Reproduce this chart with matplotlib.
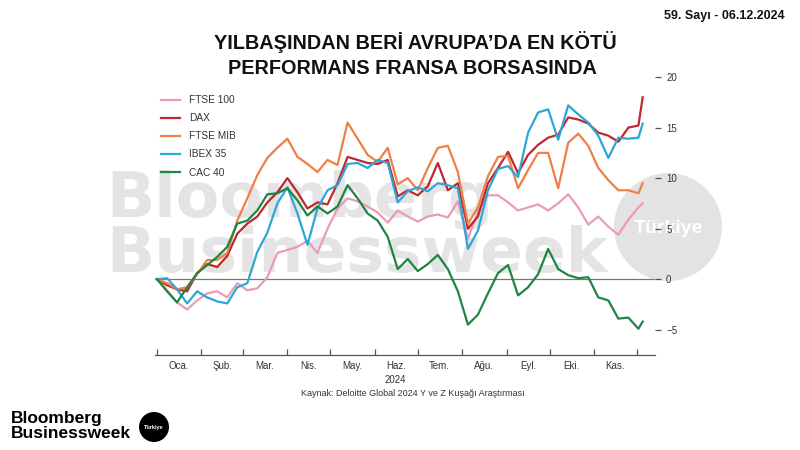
import numpy as np
import pandas as pd
import matplotlib
matplotlib.use('Agg')
import matplotlib.pyplot as plt
import matplotlib.dates as mdates
from matplotlib.patches import Ellipse

plt.rcParams['font.family'] = ['Liberation Sans', 'DejaVu Sans']

# haftalik noktalar (1 Ocak - 5 Aralik 2024), yilbasindan beri % degisim
tarih = list(pd.date_range('2024-01-01', periods=49, freq='7D')) + [pd.Timestamp('2024-12-05')]

ftse100 = [0, -1.1, -2.3, -3.0, -2.1, -1.4, -1.2, -1.8, -0.4, -1.1,
           -0.9, 0.2, 2.6, 2.9, 3.2, 3.8, 2.6, 5.0, 7.0, 8.0,
           7.7, 7.2, 6.6, 5.6, 6.8, 6.2, 5.7, 6.2, 6.4, 6.1,
           7.7, 4.0, 6.7, 8.3, 8.3, 7.6, 6.8, 7.1, 7.4, 6.8,
           7.5, 8.4, 7.1, 5.4, 6.2, 5.2, 4.4, 5.9, 7.1, 7.5]
dax = [0, -0.6, -1.0, -1.2, 0.6, 1.5, 1.2, 2.3, 4.5, 5.5,
       6.2, 7.6, 8.6, 10.0, 8.6, 7.0, 7.6, 7.4, 9.5, 12.1,
       11.8, 11.5, 11.4, 11.8, 8.2, 8.8, 8.3, 9.2, 11.5, 8.8,
       9.5, 5.0, 6.2, 9.5, 11.0, 12.6, 10.5, 12.3, 13.3, 14.0,
       14.3, 16.0, 15.8, 15.4, 14.5, 14.2, 13.6, 15.0, 15.2, 18.0]
ftsemib = [0, -0.4, -1.0, -0.8, 0.5, 1.9, 1.9, 2.6, 5.8, 8.0,
           10.3, 12.0, 13.0, 13.9, 12.1, 11.4, 10.6, 11.8, 11.3, 15.5,
           13.9, 12.3, 11.6, 13.0, 9.4, 10.0, 8.8, 11.0, 13.0, 13.2,
           10.6, 5.5, 7.1, 10.2, 12.1, 12.2, 9.0, 10.8, 12.5, 12.5,
           9.0, 13.5, 14.4, 13.2, 11.0, 9.8, 8.8, 8.8, 8.5, 9.5]
ibex35 = [0, 0.1, -1.0, -2.4, -1.2, -1.8, -2.2, -2.4, -0.8, -0.4,
          2.7, 4.6, 7.5, 9.1, 6.5, 3.4, 7.0, 8.8, 9.3, 11.4,
          11.5, 11.0, 11.8, 11.5, 7.6, 8.7, 9.1, 8.7, 9.5, 9.3,
          9.0, 3.0, 4.8, 8.8, 10.9, 11.2, 10.1, 14.5, 16.5, 16.8,
          13.8, 17.2, 16.3, 15.5, 14.2, 12.0, 14.0, 13.9, 14.0, 15.4]
cac40 = [0, -1.2, -2.3, -0.8, 0.6, 1.4, 2.2, 3.2, 5.5, 5.8,
         6.8, 8.4, 8.5, 9.0, 7.8, 6.3, 7.2, 6.5, 7.2, 9.3,
         8.0, 6.5, 5.8, 4.2, 1.0, 2.0, 0.8, 1.5, 2.4, 1.0,
         -1.2, -4.5, -3.5, -1.4, 0.6, 1.4, -1.6, -0.8, 0.5, 3.0,
         1.0, 0.4, 0.1, 0.2, -1.8, -2.1, -3.9, -3.8, -4.9, -4.2]

seriler = ['FTSE 100', 'DAX', 'FTSE MIB', 'IBEX 35', 'CAC 40']
degerler = [ftse100, dax, ftsemib, ibex35, cac40]
renkler = ['#eb9bb8', '#c1272d', '#ef7f45', '#2ea6d8', '#1f8544']

aylar = ['Oca.', 'Şub.', 'Mar.', 'Nis.', 'May.', 'Haz.', 'Tem.', 'Ağu.', 'Eyl.', 'Eki.', 'Kas.']
y_ticks = [-5, 0, 5, 10, 15, 20]

fig = plt.figure(figsize=(8, 4.5), dpi=100)
fig.patch.set_facecolor('white')

# filigran
fig.text(106/800, 1-200/450, 'Bloomberg', fontsize=45.5, fontweight='bold', color='#e4e4e4',
         family='DejaVu Sans', va='center', ha='left', zorder=-2)
fig.text(106/800, 1-255/450, 'Businessweek', fontsize=45.5, fontweight='bold', color='#e4e4e4',
         family='DejaVu Sans', va='center', ha='left', zorder=-2)
daire = Ellipse((668/800, 1-227/450), 108/800, 108/450, transform=fig.transFigure,
                facecolor='#e3e3e3', edgecolor='none', zorder=-1)
fig.patches.append(daire)
fig.text(668/800, 1-228/450, 'Türkiye', fontsize=14, fontweight='bold', color='white',
         ha='center', va='center', zorder=-1)

ax = fig.add_axes([155/800, 1-355/450, 500/800, 283/450])
ax.set_facecolor('none')

for ad, y, r in zip(seriler, degerler, renkler):
    ax.plot(tarih, y, color=r, lw=1.6, label=ad, solid_joinstyle='round')

ax.axhline(0, color='#777777', lw=0.9, zorder=1)

ax.set_xlim(pd.Timestamp('2023-12-30 14:00'), pd.Timestamp('2024-12-13 14:00'))
ax.set_ylim(-7.5, 20.5)

for s in ['top', 'left', 'right']:
    ax.spines[s].set_visible(False)
ax.spines['bottom'].set_color('#555555')
ax.spines['bottom'].set_linewidth(0.9)

ay_bas = pd.date_range('2024-01-01', '2024-12-01', freq='MS')
ax.set_xticks(ay_bas)
ax.set_xticklabels([])
ax.tick_params(axis='x', direction='in', length=4, width=0.9, color='#555555')
orta = [d + pd.Timedelta(days=15) for d in ay_bas[:-1]]
for d, a in zip(orta, aylar):
    ax.text(d, -0.022, a, transform=ax.get_xaxis_transform(), ha='center', va='top',
            fontsize=7, color='#333333')
ax.text(pd.Timestamp('2024-06-15'), -0.07, '2024', transform=ax.get_xaxis_transform(),
        ha='center', va='top', fontsize=7, color='#333333')

ax.yaxis.tick_right()
ax.set_yticks(y_ticks)
ax.tick_params(axis='y', length=4, width=0.9, color='#555555', pad=4, labelsize=7,
               labelcolor='#333333')

ax.legend(loc='upper left', bbox_to_anchor=(0.0, 0.94), frameon=False, fontsize=7.3,
          handlelength=1.9, handletextpad=0.9, labelspacing=0.8, borderaxespad=0.2,
          labelcolor='#333333')

fig.text(415/800, 1-42/450, 'YILBAŞINDAN BERİ AVRUPA’DA EN KÖTÜ', fontsize=14.3,
         fontweight='bold', ha='center', va='center', color='#111111')
fig.text(412/800, 1-68/450, 'PERFORMANS FRANSA BORSASINDA', fontsize=14.3,
         fontweight='bold', ha='center', va='center', color='#111111')

fig.text(785/800, 1-16/450, '59. Sayı - 06.12.2024', fontsize=9, fontweight='bold',
         ha='right', va='center', color='#111111')

fig.text(413/800, 1-394/450, 'Kaynak: Deloitte Global 2024 Y ve Z Kuşağı Araştırması',
         fontsize=6.5, ha='center', va='center', color='#333333')

# logo
fig.text(11/800, 1-418/450, 'Bloomberg', fontsize=12.5, fontweight='bold', ha='left',
         va='center', color='black')
fig.text(11/800, 1-433/450, 'Businessweek', fontsize=12.5, fontweight='bold', ha='left',
         va='center', color='black')
logo_daire = Ellipse((154/800, 1-427/450), 30/800, 30/450, transform=fig.transFigure,
                     facecolor='black', edgecolor='none')
fig.patches.append(logo_daire)
fig.text(154/800, 1-427/450, 'Türkiye', fontsize=4, fontweight='bold', ha='center',
         va='center', color='white')

fig.savefig('out.png', dpi=100, facecolor='white')
